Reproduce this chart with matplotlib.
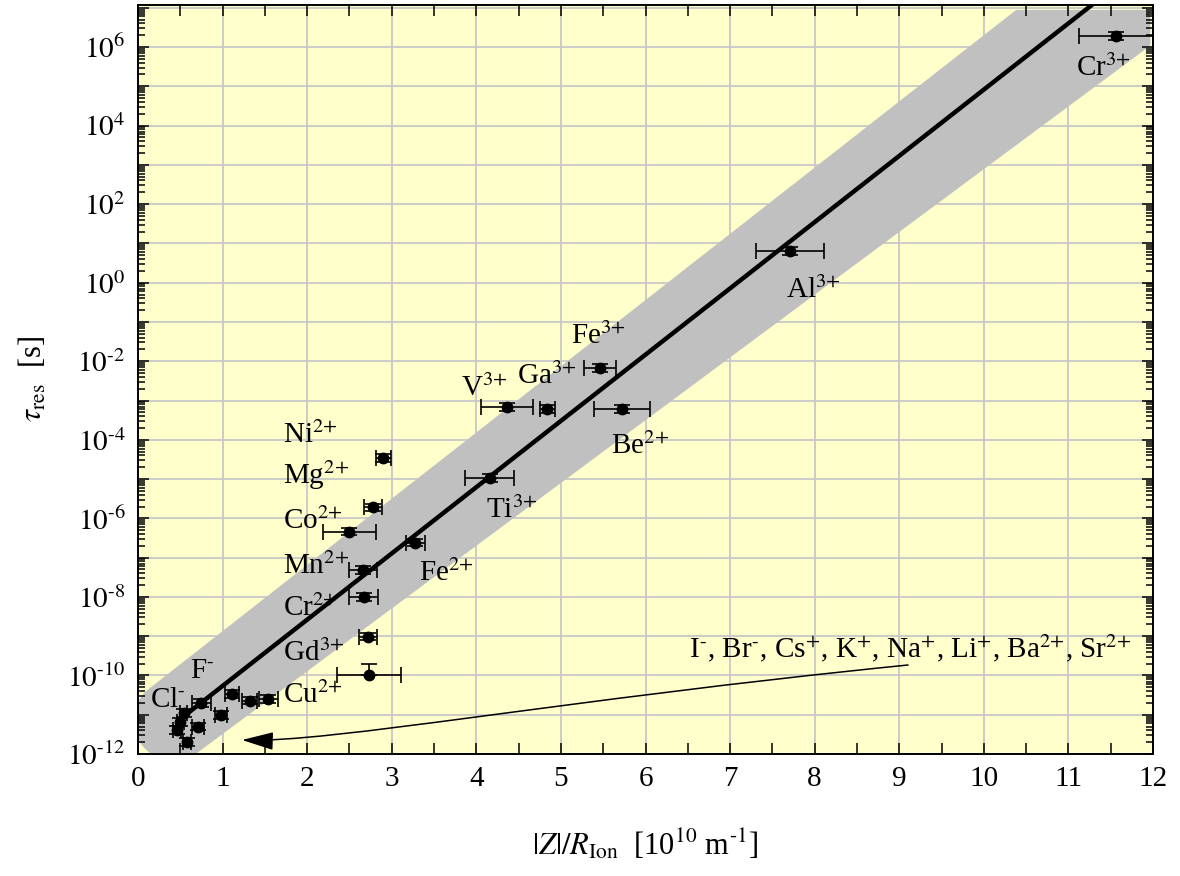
import numpy as np
import matplotlib
matplotlib.use("Agg")
import matplotlib.pyplot as plt
from matplotlib.patches import Polygon, FancyArrowPatch
from matplotlib.path import Path
from matplotlib.ticker import FixedLocator, FuncFormatter, MultipleLocator, LogLocator, NullFormatter

plt.rcParams["font.family"] = ["Liberation Serif", "DejaVu Serif"]
plt.rcParams["mathtext.fontset"] = "stix"

# |Z|/R_Ion in 1e10 1/m, residence time in s
z_over_r = [11.56, 7.71, 5.46, 4.84, 4.36, 5.72, 4.16, 2.90, 2.78, 2.50,
            3.28, 2.66, 2.67, 2.72, 2.73,
            1.54, 1.32, 1.11, 0.75, 0.98, 0.71, 0.58, 0.46, 0.50, 0.54]
tau_res = [1.9e6, 6.4, 6.8e-3, 6.0e-4, 6.9e-4, 6.0e-4, 1.05e-5, 3.4e-5, 1.9e-6, 4.6e-7,
           2.4e-7, 4.8e-8, 1.0e-8, 9.8e-10, 1.0e-10,
           2.5e-11, 2.3e-11, 3.4e-11, 2.0e-11, 9.8e-12, 5.0e-12, 2.0e-12, 4.1e-12, 6.6e-12, 1.1e-11]
z_over_r_err = [0.44, 0.40, 0.19, 0.085, 0.31, 0.33, 0.29, 0.09, 0.11, 0.31,
                0.11, 0.17, 0.17, 0.11, 0.38,
                0.11, 0.09, 0.08, 0.11, 0.07, 0.07, 0.05, 0.05, 0.04, 0.04]
# multiplicative uncertainty of tau (lower, upper)
tau_factor_lo = [1.25] * 14 + [1.0] + [1.25] * 10
tau_factor_hi = [1.25] * 14 + [2.0] + [1.25] * 10

SUP_M = r"$^{\text{-}}$"
SUP_P = r"$^{{+}}$"
SUP_2P = r"$^{2{+}}$"
SUP_3P = r"$^{3{+}}$"

# ion labels: text, x, log10(tau), horizontal alignment
ion_labels = ["Cr" + SUP_3P, "Al" + SUP_3P, "Fe" + SUP_3P, "Ga" + SUP_3P, "V" + SUP_3P,
              "Be" + SUP_2P, "Ti" + SUP_3P, "Ni" + SUP_2P, "Mg" + SUP_2P, "Co" + SUP_2P,
              "Mn" + SUP_2P, "Cr" + SUP_2P, "Fe" + SUP_2P, "Gd" + SUP_3P, "Cu" + SUP_2P,
              "F" + SUP_M, "Cl" + SUP_M]
label_x = [11.41, 7.98, 5.44, 4.83, 4.09, 5.93, 4.42, 1.71, 1.71, 1.71, 1.71, 1.71,
           3.65, 1.71, 1.71, 0.76, 0.35]
label_logy = [5.46, -0.19, -1.36, -2.38, -2.68, -4.16, -5.79, -3.88, -4.90, -6.07, -7.21,
              -8.28, -7.39, -9.43, -10.50, -9.89, -10.63]
label_ha = ["center", "center", "center", "center", "center", "center", "center",
            "left", "left", "left", "left", "left", "center", "left", "left", "center", "center"]

group_label = ("I" + SUP_M + ", Br" + SUP_M + ", Cs" + SUP_P + ", K" + SUP_P + ", Na" + SUP_P
               + ", Li" + SUP_P + ", Ba" + SUP_2P + ", Sr" + SUP_2P)

# linear fit in log space: log10(tau) = fit_intercept + fit_slope * x
fit_slope = 1.687
fit_intercept = -11.954
fit_x_start = 0.53

# uncertainty band: upper edge parallel to fit, lower edge its own line
band_upper_offset = 1.25
band_lower_intercept = -12.97
band_lower_slope = 1.599
band_top_log = 6.84
band_right_x = 11.92
band_cap_x = 0.42

BG = "#ffffcc"
BAND = "#c0c0c0"
GRID = "#c8c8c8"

fig = plt.figure(figsize=(11.8, 8.76), dpi=100)
ax = fig.add_axes([138 / 1180, 1 - 754 / 876, (1153 - 138) / 1180, (754 - 5) / 876])
ax.set_facecolor(BG)
ax.set_yscale("log")
ax.set_xlim(0, 12)
ax.set_ylim(1e-12, 10 ** 7.07)

# grid
for e in range(-12, 8):
    ax.axhline(10.0 ** e, color=GRID, lw=1.3, zorder=0.5)
for xv in range(1, 12):
    ax.axvline(xv, color=GRID, lw=1.3, zorder=0.5)

# band outline built in display space
T = ax.transData


def px(x, logy):
    return T.transform(np.column_stack([np.atleast_1d(x), 10.0 ** np.atleast_1d(logy)]))


def upper_log(x):
    return fit_intercept + fit_slope * x + band_upper_offset


def lower_log(x):
    return band_lower_intercept + band_lower_slope * x


xa = (band_top_log - band_upper_offset - fit_intercept) / fit_slope
pA = px(xa, band_top_log)[0]
pB = px(band_right_x, band_top_log)[0]
pC = px(band_right_x, lower_log(band_right_x))[0]
u0 = px(band_cap_x, upper_log(band_cap_x))[0]
l0 = px(band_cap_x, lower_log(band_cap_x))[0]
c = (u0 + l0) / 2
du = pA - u0
du /= np.hypot(*du)
dl = px(11.0, lower_log(11.0))[0] - l0
dl /= np.hypot(*dl)


def foot(p0, d, q):
    return p0 + np.dot(q - p0, d) * d


fu = foot(u0, du, c)
fl = foot(l0, dl, c)
r = 0.5 * (np.hypot(*(fu - c)) + np.hypot(*(fl - c)))
ang_u = np.arctan2(fu[1] - c[1], fu[0] - c[0])
ang_l = np.arctan2(fl[1] - c[1], fl[0] - c[0])
# sweep counter-clockwise from the upper tangent point over the left end to the lower one
if ang_l < ang_u:
    ang_l += 2 * np.pi
angs = np.linspace(ang_u, ang_l, 80)
arc_pts = c + r * np.column_stack([np.cos(angs), np.sin(angs)])
outline = np.vstack([arc_pts, [pC], [pB], [pA]])
band_data = T.inverted().transform(outline)
ax.add_patch(Polygon(band_data, closed=True, facecolor=BAND, edgecolor=BAND, lw=6,
                     joinstyle="round", zorder=1))

# fit line
fx = np.array([fit_x_start, 12.5])
ax.plot(fx, 10 ** (fit_intercept + fit_slope * fx), color="black", lw=3.2,
        solid_capstyle="butt", zorder=2)

# data
tau = np.array(tau_res)
yerr = np.vstack([tau - tau / np.array(tau_factor_lo), tau * np.array(tau_factor_hi) - tau])
ax.errorbar(z_over_r, tau, xerr=z_over_r_err, yerr=yerr, fmt="o", color="black",
            ms=7.5, elinewidth=1.2, capsize=6, capthick=1.2, zorder=3)

# labels
for txt, lx, ly, ha in zip(ion_labels, label_x, label_logy, label_ha):
    ax.text(lx, 10 ** ly, txt, ha=ha, va="center", fontsize=21, zorder=4)
ax.text(6.52, 10 ** -9.30, group_label, ha="left", va="center", fontsize=21, zorder=4)

# curved arrow from the group label down to the cluster
arrow_px = np.array([[908, 876 - 665], [560, 876 - 700], [330, 876 - 743], [242, 876 - 740]])
arrow_path = Path(T.inverted().transform(arrow_px),
                  [Path.MOVETO, Path.CURVE4, Path.CURVE4, Path.CURVE4])
ax.add_patch(FancyArrowPatch(path=arrow_path, arrowstyle="-|>,head_length=1.4,head_width=0.4",
                             mutation_scale=14, color="black", lw=1.1, zorder=4))

# axes styling
ax.xaxis.set_major_locator(MultipleLocator(1))
ax.xaxis.set_minor_locator(MultipleLocator(0.5))
ax.yaxis.set_major_locator(FixedLocator([10.0 ** e for e in range(-12, 8)]))


def exp_label(v, pos):
    e = int(round(np.log10(v)))
    if e % 2:
        return ""
    if e < 0:
        return r"$10^{\text{-}%d}$" % (-e)
    return r"$10^{%d}$" % e


ax.yaxis.set_major_formatter(FuncFormatter(exp_label))
ax.yaxis.set_minor_locator(LogLocator(base=10, subs=np.arange(2, 10), numticks=100))
ax.yaxis.set_minor_formatter(NullFormatter())
ax.tick_params(which="both", direction="in", top=True, right=True, width=1.1, colors="black")
ax.tick_params(which="major", length=8, labelsize=21, pad=9)
ax.tick_params(which="minor", length=5)
ax.tick_params(axis="x", which="minor", length=8)
for s in ax.spines.values():
    s.set_linewidth(1.4)

ax.set_xlabel(r"$|Z|/R_{\rm Ion}$  [10$^{10}$ m$^{\text{-}1}$]", fontsize=22)
ax.set_ylabel(r"$\tau_{\rm res}$  [s]", fontsize=22)
ax.xaxis.set_label_coords(0.5, -0.098)
ax.yaxis.set_label_coords(-0.088, 0.5)

fig.savefig("out.png", dpi=100)
